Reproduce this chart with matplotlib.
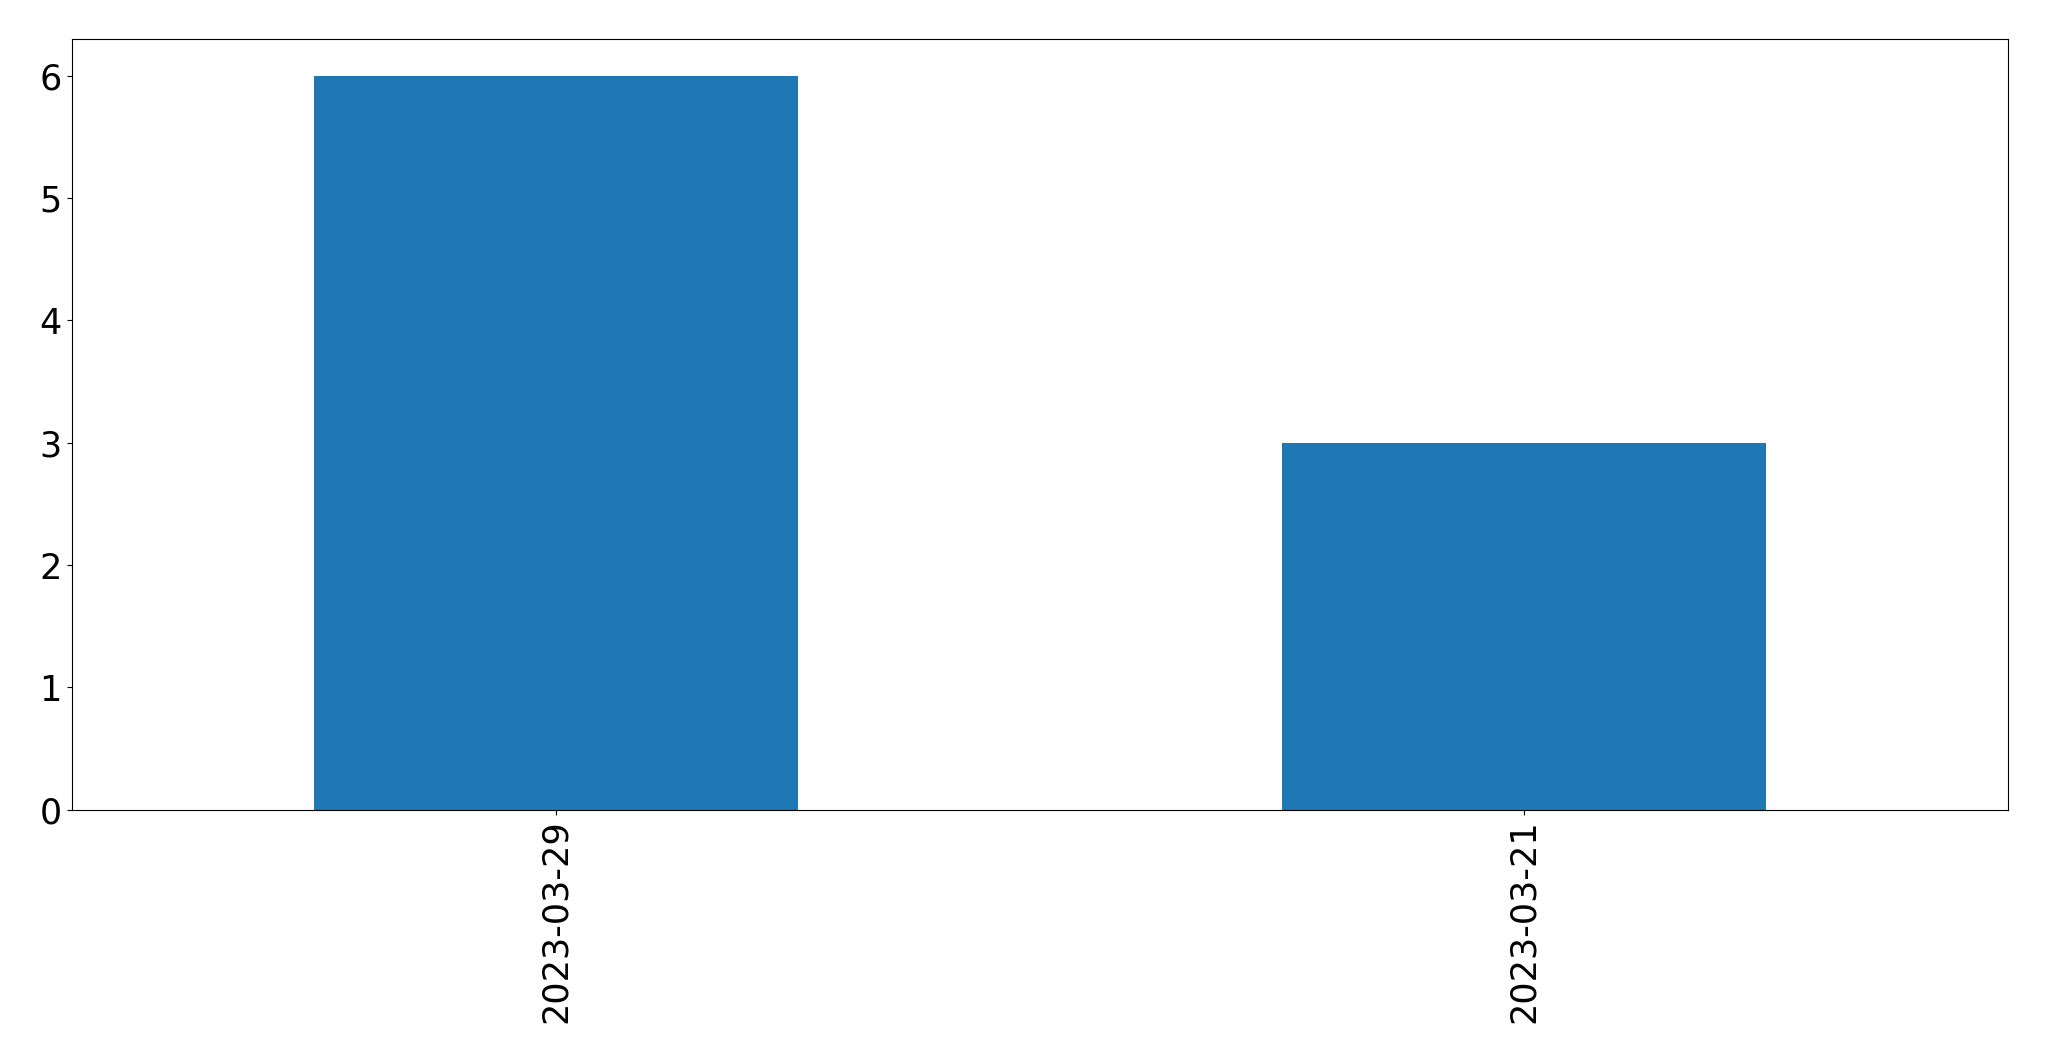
import matplotlib
matplotlib.use('Agg')
import matplotlib.pyplot as plt
import numpy as np

# 数据
dates = ['2023-03-29', '2023-03-21']
counts = [6, 3]

fig = plt.figure(figsize=(20.49, 10.61), dpi=100)
ax = fig.add_axes([0.035, 0.237, 0.945, 0.726])

x = np.arange(len(dates))
ax.bar(x, counts, width=0.5, color='#1f77b4')
ax.set_xlim(-0.5, len(dates) - 0.5)
ax.set_xticks(x)
ax.set_xticklabels(dates, rotation=90)
ax.tick_params(axis='both', labelsize=25.2)

fig.savefig('out.png', dpi=100)
